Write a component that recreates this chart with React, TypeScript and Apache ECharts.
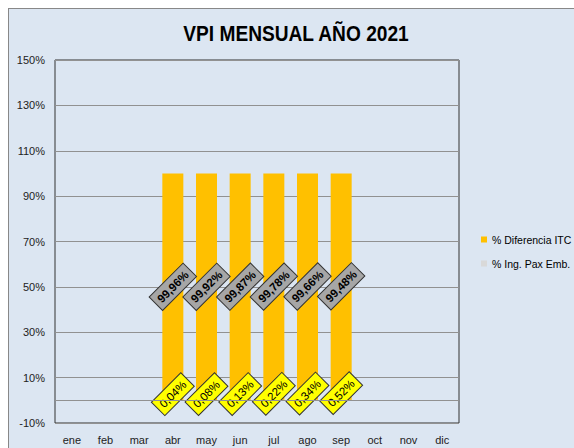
import React, { useEffect, useRef } from "react";
import * as echarts from "echarts";

const months = ["ene", "feb", "mar", "abr", "may", "jun", "jul", "ago", "sep", "oct", "nov", "dic"];
const difITC = [null, null, null, 0.04, 0.08, 0.13, 0.22, 0.34, 0.52, null, null, null];
const ingPax = [null, null, null, 99.96, 99.92, 99.87, 99.78, 99.66, 99.48, null, null, null];
const seriesNames = ["% Diferencia ITC", "% Ing. Pax Emb."];
const titleText = "VPI MENSUAL AÑO 2021";

const fmt = (v: number) => v.toFixed(2).replace(".", ",") + "%";

export default function App() {
  const ref = useRef<HTMLDivElement>(null);
  useEffect(() => {
    document.body.style.margin = "0";
    const chart = echarts.init(ref.current!, null, { renderer: "svg" });
    const font = "'Liberation Sans', Arial, sans-serif";
    chart.setOption({
      animation: false,
      backgroundColor: "#dce6f2",
      textStyle: { fontFamily: font },
      graphic: [
        {
          type: "text",
          x: 287,
          y: 24,
          scaleX: 0.87,
          style: {
            text: titleText,
            fontFamily: font,
            fontSize: 22,
            fontWeight: "bold",
            fill: "#000",
            textAlign: "center",
            textVerticalAlign: "middle",
          },
        },
      ],
      legend: {
        orient: "vertical",
        left: 467,
        top: 220,
        itemWidth: 6,
        itemHeight: 6,
        itemGap: 13,
        icon: "rect",
        textStyle: { fontSize: 10.5, color: "#000", fontFamily: font },
        data: [
          { name: seriesNames[0], itemStyle: { color: "#ffc000" } },
          { name: seriesNames[1], itemStyle: { color: "#d9d9d9" } },
        ],
      },
      grid: {
        left: 46,
        top: 51,
        right: 115,
        bottom: 25,
        show: true,
        borderColor: "#333",
        borderWidth: 1,
        backgroundColor: "transparent",
      },
      xAxis: {
        type: "category",
        data: months,
        axisLine: { show: false, onZero: false },
        axisTick: { show: false },
        axisLabel: { color: "#222", fontSize: 11, margin: 11, fontFamily: font },
        splitLine: { show: false },
      },
      yAxis: {
        type: "value",
        min: -10,
        max: 150,
        interval: 20,
        axisLine: { show: false },
        axisTick: { show: false },
        axisLabel: { color: "#222", fontSize: 11, margin: 10, formatter: "{value}%", fontFamily: font },
        splitLine: { show: true, lineStyle: { color: "#919191", width: 1 } },
      },
      series: [
        {
          name: seriesNames[0],
          type: "bar",
          stack: "a",
          data: difITC,
          barWidth: 21,
          itemStyle: { color: "#ffc000" },
          label: {
            show: true,
            position: [10.5, -6],
            align: "center",
            verticalAlign: "middle",
            rotate: 45,
            formatter: (p: any) => fmt(p.value),
            backgroundColor: "#ffff00",
            borderColor: "#333",
            borderWidth: 1,
            padding: [3, 4],
            color: "#000",
            fontSize: 11.5,
            fontFamily: font,
          },
          markLine: {
            silent: true,
            symbol: "none",
            label: { show: false },
            lineStyle: { color: "#919191", type: "solid", width: 1 },
            data: [{ yAxis: 0 }],
          },
        },
        {
          name: seriesNames[1],
          type: "bar",
          stack: "a",
          data: ingPax,
          barWidth: 21,
          itemStyle: { color: "#ffc000" },
          label: {
            show: true,
            position: "inside",
            rotate: 45,
            formatter: (p: any) => fmt(p.value),
            backgroundColor: "#a6a6a6",
            borderColor: "#333",
            borderWidth: 1,
            padding: [3, 4],
            color: "#000",
            fontWeight: "bold",
            fontSize: 11.5,
            fontFamily: font,
          },
        },
      ],
    });
    return () => chart.dispose();
  }, []);
  return (
    <div
      style={{
        width: 574,
        height: 448,
        boxSizing: "border-box",
        paddingLeft: 8,
        paddingTop: 8,
        background: "#ffffff",
        overflow: "hidden",
      }}
    >
      <div
        style={{
          width: 566,
          height: 440,
          boxSizing: "border-box",
          borderTop: "1px solid #888",
          borderLeft: "1px solid #888",
          background: "#dce6f2",
        }}
      >
        <div ref={ref} style={{ width: 565, height: 439 }} />
      </div>
    </div>
  );
}
